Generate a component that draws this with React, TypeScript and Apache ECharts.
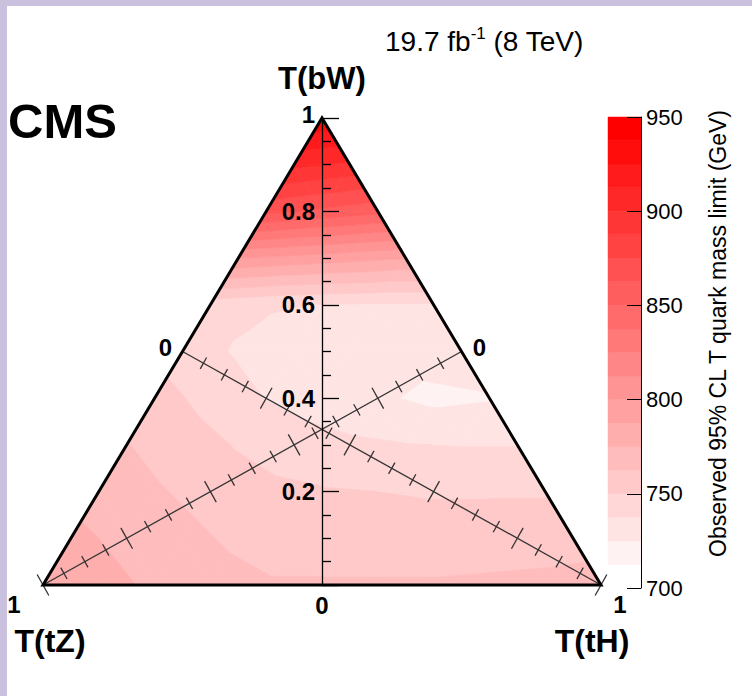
import React, { useEffect, useRef } from 'react';
import * as echarts from 'echarts';

// ---- Data: observed 95% CL T quark mass limit (GeV) on a ternary grid ----
// Rows are B(T->bW); within a row, entries run over B(T->tH) = 0, 0.1, ...
const bwRows = [0, 0.1, 0.2, 0.3, 0.4, 0.5, 0.6, 0.7, 0.8, 0.9, 1.0];
const thSteps = [0, 0.1, 0.2, 0.3, 0.4, 0.5, 0.6, 0.7, 0.8, 0.9, 1.0];
const limitBW00 = [786, 779, 773, 768, 764, 764, 764, 764, 765, 766, 768];
const limitBW01 = [778, 772, 766, 760, 756, 755, 755, 755, 756, 757];
const limitBW02 = [770, 764, 758, 753, 751, 750, 749, 749, 749];
const limitBW03 = [763, 756, 749, 744, 740, 738, 737, 737];
const limitBW04 = [755, 746, 737, 731, 727, 722, 724];
const limitBW05 = [744, 736, 731, 730, 730, 732];
const limitBW06 = [743, 739, 737, 736, 736];
const limitBW07 = [800, 796, 792, 788];
const limitBW08 = [866, 860, 854];
const limitBW09 = [903, 898];
const limitBW10 = [935];
const limitRows = [limitBW00, limitBW01, limitBW02, limitBW03, limitBW04, limitBW05,
  limitBW06, limitBW07, limitBW08, limitBW09, limitBW10];

const contourLevels = [712.5, 725, 737.5, 750, 762.5, 775, 787.5, 800, 812.5, 825, 837.5,
  850, 862.5, 875, 887.5, 900, 912.5, 925, 937.5, 950];
const colorbarRange = [700, 950];
const colorbarStep = 50;
const bwAxisRange = [0, 1];
const bwAxisStep = 0.2;
const bwTickLabels = [0.2, 0.4, 0.6, 0.8, 1];
const medianMajorTicks = [0, 0.2, 0.4, 0.6, 0.8, 1];

const FONT = '"Liberation Sans", Arial, Helvetica, sans-serif';

function bandColor(b: number): string {
  const n = contourLevels.length - 1;
  const g = Math.round(255 * (1 - (b + 1) / n));
  return `rgb(255,${g},${g})`;
}

// Ternary (bW, tH) -> cartesian (x = tH - tZ, y = bW)
function toXY(bW: number, tH: number): [number, number] {
  const tZ = 1 - bW - tH;
  return [tH - tZ, bW];
}

function buildMesh(): number[][] {
  const tris: number[][] = [];
  const node = (r: number, j: number) => {
    const [x, y] = toXY(bwRows[r], thSteps[j]);
    return [x, y, limitRows[r][j]];
  };
  for (let r = 0; r < limitRows.length - 1; r++) {
    const n = limitRows[r].length;
    for (let j = 0; j < n - 1; j++) {
      tris.push([...node(r, j), ...node(r, j + 1), ...node(r + 1, j)]);
      if (j + 1 < limitRows[r + 1].length) {
        tris.push([...node(r, j + 1), ...node(r + 1, j + 1), ...node(r + 1, j)]);
      }
    }
  }
  return tris;
}

type P = { x: number; y: number; v: number };
function clipPoly(poly: P[], level: number, keepAbove: boolean): P[] {
  const out: P[] = [];
  const n = poly.length;
  for (let i = 0; i < n; i++) {
    const a = poly[i];
    const b = poly[(i + 1) % n];
    const ina = keepAbove ? a.v >= level : a.v <= level;
    const inb = keepAbove ? b.v >= level : b.v <= level;
    if (ina) out.push(a);
    if (ina !== inb) {
      const t = (level - a.v) / (b.v - a.v);
      out.push({ x: a.x + t * (b.x - a.x), y: a.y + t * (b.y - a.y), v: level });
    }
  }
  return out;
}

export default function App() {
  const ref = useRef<HTMLDivElement>(null);
  useEffect(() => {
    if (!ref.current) return;
    const chart = echarts.init(ref.current, undefined, { renderer: 'svg' });
    const mesh = buildMesh();
    const nBands = contourLevels.length - 1;
    const bandData = contourLevels.slice(0, nBands).map((lo, b) => [0.5, lo, contourLevels[b + 1], b]);

    const contourRender = (params: any, api: any) => {
      const pts: P[] = [0, 1, 2].map((k) => ({
        x: api.value(3 * k), y: api.value(3 * k + 1), v: api.value(3 * k + 2),
      }));
      const children: any[] = [];
      for (let b = 0; b < nBands; b++) {
        let poly = clipPoly(pts, contourLevels[b], true);
        if (b < nBands - 1) poly = clipPoly(poly, contourLevels[b + 1], false);
        if (poly.length < 3) continue;
        const points = poly.map((p) => api.coord([p.x, p.y]));
        const c = bandColor(b);
        children.push({ type: 'polygon', shape: { points }, style: { fill: c, stroke: c, lineWidth: 0.7 } });
      }
      return { type: 'group', children };
    };

    const textEl = (x: number, y: number, text: string, align = 'center', size = 24) => ({
      type: 'text', x, y,
      style: { text, font: `bold ${size}px ${FONT}`, fill: '#000',
        align, verticalAlign: 'middle', textAlign: align, textVerticalAlign: 'middle' },
    });

    const frameRender = (params: any, api: any) => {
      const children: any[] = [];
      const BL = api.coord([-1, 0]);
      const BR = api.coord([1, 0]);
      const TOP = api.coord([0, 1]);
      // medians: tH axis (left-side midpoint -> tH vertex), tZ axis (right-side midpoint -> tZ vertex)
      const medians = [
        { from: api.coord(toXY(0.5, 0)), to: BR },
        { from: api.coord(toXY(0.5, 0.5)), to: BL },
      ];
      medians.forEach((m) => {
        const dx = m.to[0] - m.from[0];
        const dy = m.to[1] - m.from[1];
        const len = Math.hypot(dx, dy);
        const nx = -dy / len;
        const ny = dx / len;
        children.push({ type: 'line', shape: { x1: m.from[0], y1: m.from[1], x2: m.to[0], y2: m.to[1] },
          style: { stroke: '#333', lineWidth: 1.3 } });
        for (let i = 0; i < medianMajorTicks.length; i++) {
          const t0 = medianMajorTicks[i];
          const subs = i < medianMajorTicks.length - 1 ? 4 : 1;
          for (let s = 0; s < subs; s++) {
            const t = t0 + (s * (medianMajorTicks[1] - medianMajorTicks[0])) / 4;
            const h = s === 0 ? 12 : 6.5;
            const px = m.from[0] + dx * t;
            const py = m.from[1] + dy * t;
            children.push({ type: 'line', shape: { x1: px - nx * h, y1: py - ny * h, x2: px + nx * h, y2: py + ny * h },
              style: { stroke: '#333', lineWidth: 1.3 } });
          }
        }
      });
      children.push({ type: 'polygon', shape: { points: [BL, BR, TOP] },
        style: { fill: 'none', stroke: '#000', lineWidth: 3, lineJoin: 'miter' } });
      const lm = medians[0].from;
      const rm = medians[1].from;
      children.push(textEl(lm[0] - 17, lm[1] - 4, '0'));
      children.push(textEl(rm[0] + 18, rm[1] - 4, '0'));
      children.push(textEl(BL[0] - 29, BL[1] + 19, '1'));
      children.push(textEl(BR[0] + 19, BR[1] + 19, '1'));
      const B0 = api.coord([0, 0]);
      children.push(textEl(B0[0], B0[1] + 20, '0'));
      // bW axis labels (left of the vertical axis)
      bwTickLabels.forEach((v) => {
        const p = api.coord([0, v]);
        const label = v === 1 ? '1' : v.toFixed(1);
        children.push(textEl(p[0] - 7, p[1] + (v === 1 ? -4 : 0), label, 'right'));
      });
      return { type: 'group', children };
    };

    const option: any = {
      animation: false,
      backgroundColor: '#ffffff',
      grid: [
        { left: 43, top: 118, width: 558, height: 467 },
        { left: 608, top: 117, width: 33, height: 471 },
      ],
      xAxis: [
        { type: 'value', gridIndex: 0, min: -1, max: 1, show: false, axisLine: { onZero: false } },
        { type: 'value', gridIndex: 1, min: 0, max: 1, show: false, axisLine: { onZero: false } },
      ],
      yAxis: [
        {
          type: 'value', gridIndex: 0, min: bwAxisRange[0], max: bwAxisRange[1], interval: bwAxisStep, z: 10,
          axisLine: { show: true, onZero: true, lineStyle: { color: '#000', width: 1.3 } },
          axisTick: { show: true, inside: true, length: 17, lineStyle: { color: '#000', width: 1.3 } },
          minorTick: { show: true, splitNumber: 4, length: 9, lineStyle: { color: '#000', width: 1.3 } },
          axisLabel: { show: false },
          splitLine: { show: false },
        },
        {
          type: 'value', gridIndex: 1, position: 'right', min: colorbarRange[0], max: colorbarRange[1],
          interval: colorbarStep, z: 10,
          axisLine: { show: true, onZero: false, lineStyle: { color: '#000', width: 1 } },
          axisTick: { show: true, inside: true, length: 14, lineStyle: { color: '#000', width: 1 } },
          axisLabel: { color: '#000', fontSize: 22, fontFamily: FONT, margin: 5 },
          splitLine: { show: false },
        },
      ],
      series: [
        {
          type: 'custom', xAxisIndex: 0, yAxisIndex: 0, z: 1, silent: true,
          renderItem: contourRender, data: mesh,
        },
        {
          type: 'custom', xAxisIndex: 0, yAxisIndex: 0, z: 5, silent: true,
          renderItem: frameRender, data: [[0, 0]],
        },
        {
          type: 'custom', xAxisIndex: 1, yAxisIndex: 1, z: 1, silent: true,
          encode: { x: 0, y: [1, 2] },
          renderItem: (params: any, api: any) => {
            const lo = api.value(1);
            const hi = api.value(2);
            const b = api.value(3);
            const p1 = api.coord([0, hi]);
            const p2 = api.coord([1, lo]);
            const c = bandColor(b);
            return { type: 'rect', shape: { x: p1[0], y: p1[1], width: p2[0] - p1[0], height: p2[1] - p1[1] },
              style: { fill: c, stroke: c, lineWidth: 0.5 } };
          },
          data: bandData,
        },
      ],
      graphic: [
        { type: 'rect', left: 0, top: 0, shape: { width: 752, height: 6 }, style: { fill: '#c9c1dd' }, z: 100 },
        { type: 'rect', left: 0, top: 0, shape: { width: 7, height: 696 }, style: { fill: '#c9c1dd' }, z: 100 },
        { type: 'text', x: 8, y: 121, style: { text: 'CMS', font: `bold 49px ${FONT}`, fill: '#000',
          align: 'left', verticalAlign: 'middle', textAlign: 'left', textVerticalAlign: 'middle' } },
        { type: 'text', x: 385, y: 41, style: {
          text: '{a|19.7 fb}{s|-1}{a| (8 TeV)}', fill: '#000',
          align: 'left', verticalAlign: 'middle', textAlign: 'left', textVerticalAlign: 'middle',
          rich: {
            a: { fontSize: 28, fontFamily: FONT, fill: '#000', lineHeight: 32 },
            s: { fontSize: 17, fontFamily: FONT, fill: '#000', lineHeight: 32, verticalAlign: 'top' },
          } } },
        { type: 'text', x: 322, y: 78, style: { text: 'T(bW)', font: `bold 31px ${FONT}`, fill: '#000',
          align: 'center', verticalAlign: 'middle', textAlign: 'center', textVerticalAlign: 'middle' } },
        { type: 'text', x: 50, y: 641, style: { text: 'T(tZ)', font: `bold 32px ${FONT}`, fill: '#000',
          align: 'center', verticalAlign: 'middle', textAlign: 'center', textVerticalAlign: 'middle' } },
        { type: 'text', x: 592, y: 641, style: { text: 'T(tH)', font: `bold 32px ${FONT}`, fill: '#000',
          align: 'center', verticalAlign: 'middle', textAlign: 'center', textVerticalAlign: 'middle' } },
        { type: 'text', x: 718, y: 110, rotation: Math.PI / 2, style: {
          text: 'Observed 95% CL T quark mass limit (GeV)', font: `23px ${FONT}`, fill: '#000',
          align: 'right', verticalAlign: 'middle', textAlign: 'right', textVerticalAlign: 'middle' } },
      ],
    };
    chart.setOption(option);
    return () => chart.dispose();
  }, []);
  return <div ref={ref} style={{ position: 'absolute', left: 0, top: 0, width: 752, height: 696 }} />;
}
